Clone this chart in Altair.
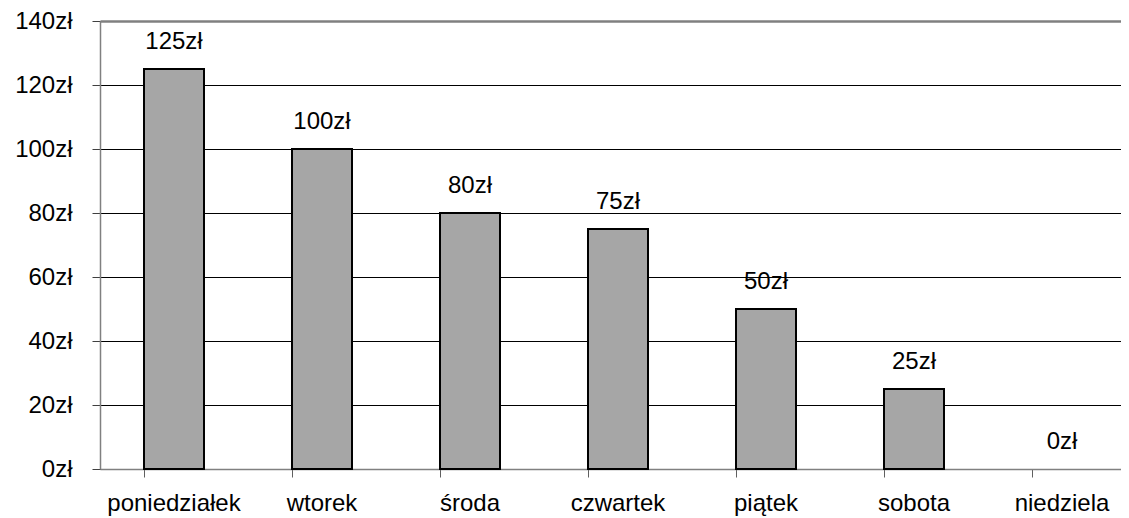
import altair as alt
import pandas as pd

days = ["poniedziałek", "wtorek", "środa", "czwartek", "piątek", "sobota", "niedziela"]
values = [125, 100, 80, 75, 50, 25, 0]
y_ticks = [0, 20, 40, 60, 80, 100, 120, 140]

df = pd.DataFrame({"day": days, "value": values})

FONT = "Liberation Sans"
FS = 24

x = alt.X("day:N", sort=days, title=None,
          scale=alt.Scale(paddingInner=0.595, paddingOuter=0.2975),
          axis=alt.Axis(labelAngle=0, labelFontSize=FS, labelFont=FONT, labelColor="black",
                        labelPadding=14, tickSize=8, tickColor="#606060", bandPosition=0,
                        domainColor="#808080", domainWidth=1.5, grid=False))
y = alt.Y("value:Q", title=None,
          scale=alt.Scale(domain=[0, 140], nice=False),
          axis=alt.Axis(values=y_ticks, labelExpr="datum.value + 'zł'", labelFontSize=FS,
                        labelFont=FONT, labelColor="black", labelPadding=20, tickSize=8,
                        tickColor="#404040", domainColor="#808080", domainWidth=1.5,
                        grid=True,
                        gridColor=alt.condition("datum.value == 140", alt.value("#808080"), alt.value("black")),
                        gridWidth=alt.condition("datum.value == 140", alt.value(2.5), alt.value(1)),
                        gridOpacity=1))

bars = alt.Chart(df).mark_bar(color="#a6a6a6", stroke="black", strokeWidth=2, size=60).encode(
    x=x, y=y,
    strokeOpacity=alt.condition("datum.value == 0", alt.value(0), alt.value(1)),
)

labels = alt.Chart(df).transform_calculate(label="datum.value + 'zł'").mark_text(
    font=FONT, fontSize=FS, dy=-20, baseline="alphabetic", color="black"
).encode(x=alt.X("day:N", sort=days), y="value:Q", text="label:N")

chart = alt.layer(bars, labels).properties(
    width=1036, height=448,
    autosize=alt.AutoSizeParams(type="none"),
    padding={"left": 92, "top": 13, "right": -15, "bottom": 48},
).configure_view(stroke=None).configure(background="white")

chart.save("out.html", embed_options={"renderer": "svg", "actions": False})
